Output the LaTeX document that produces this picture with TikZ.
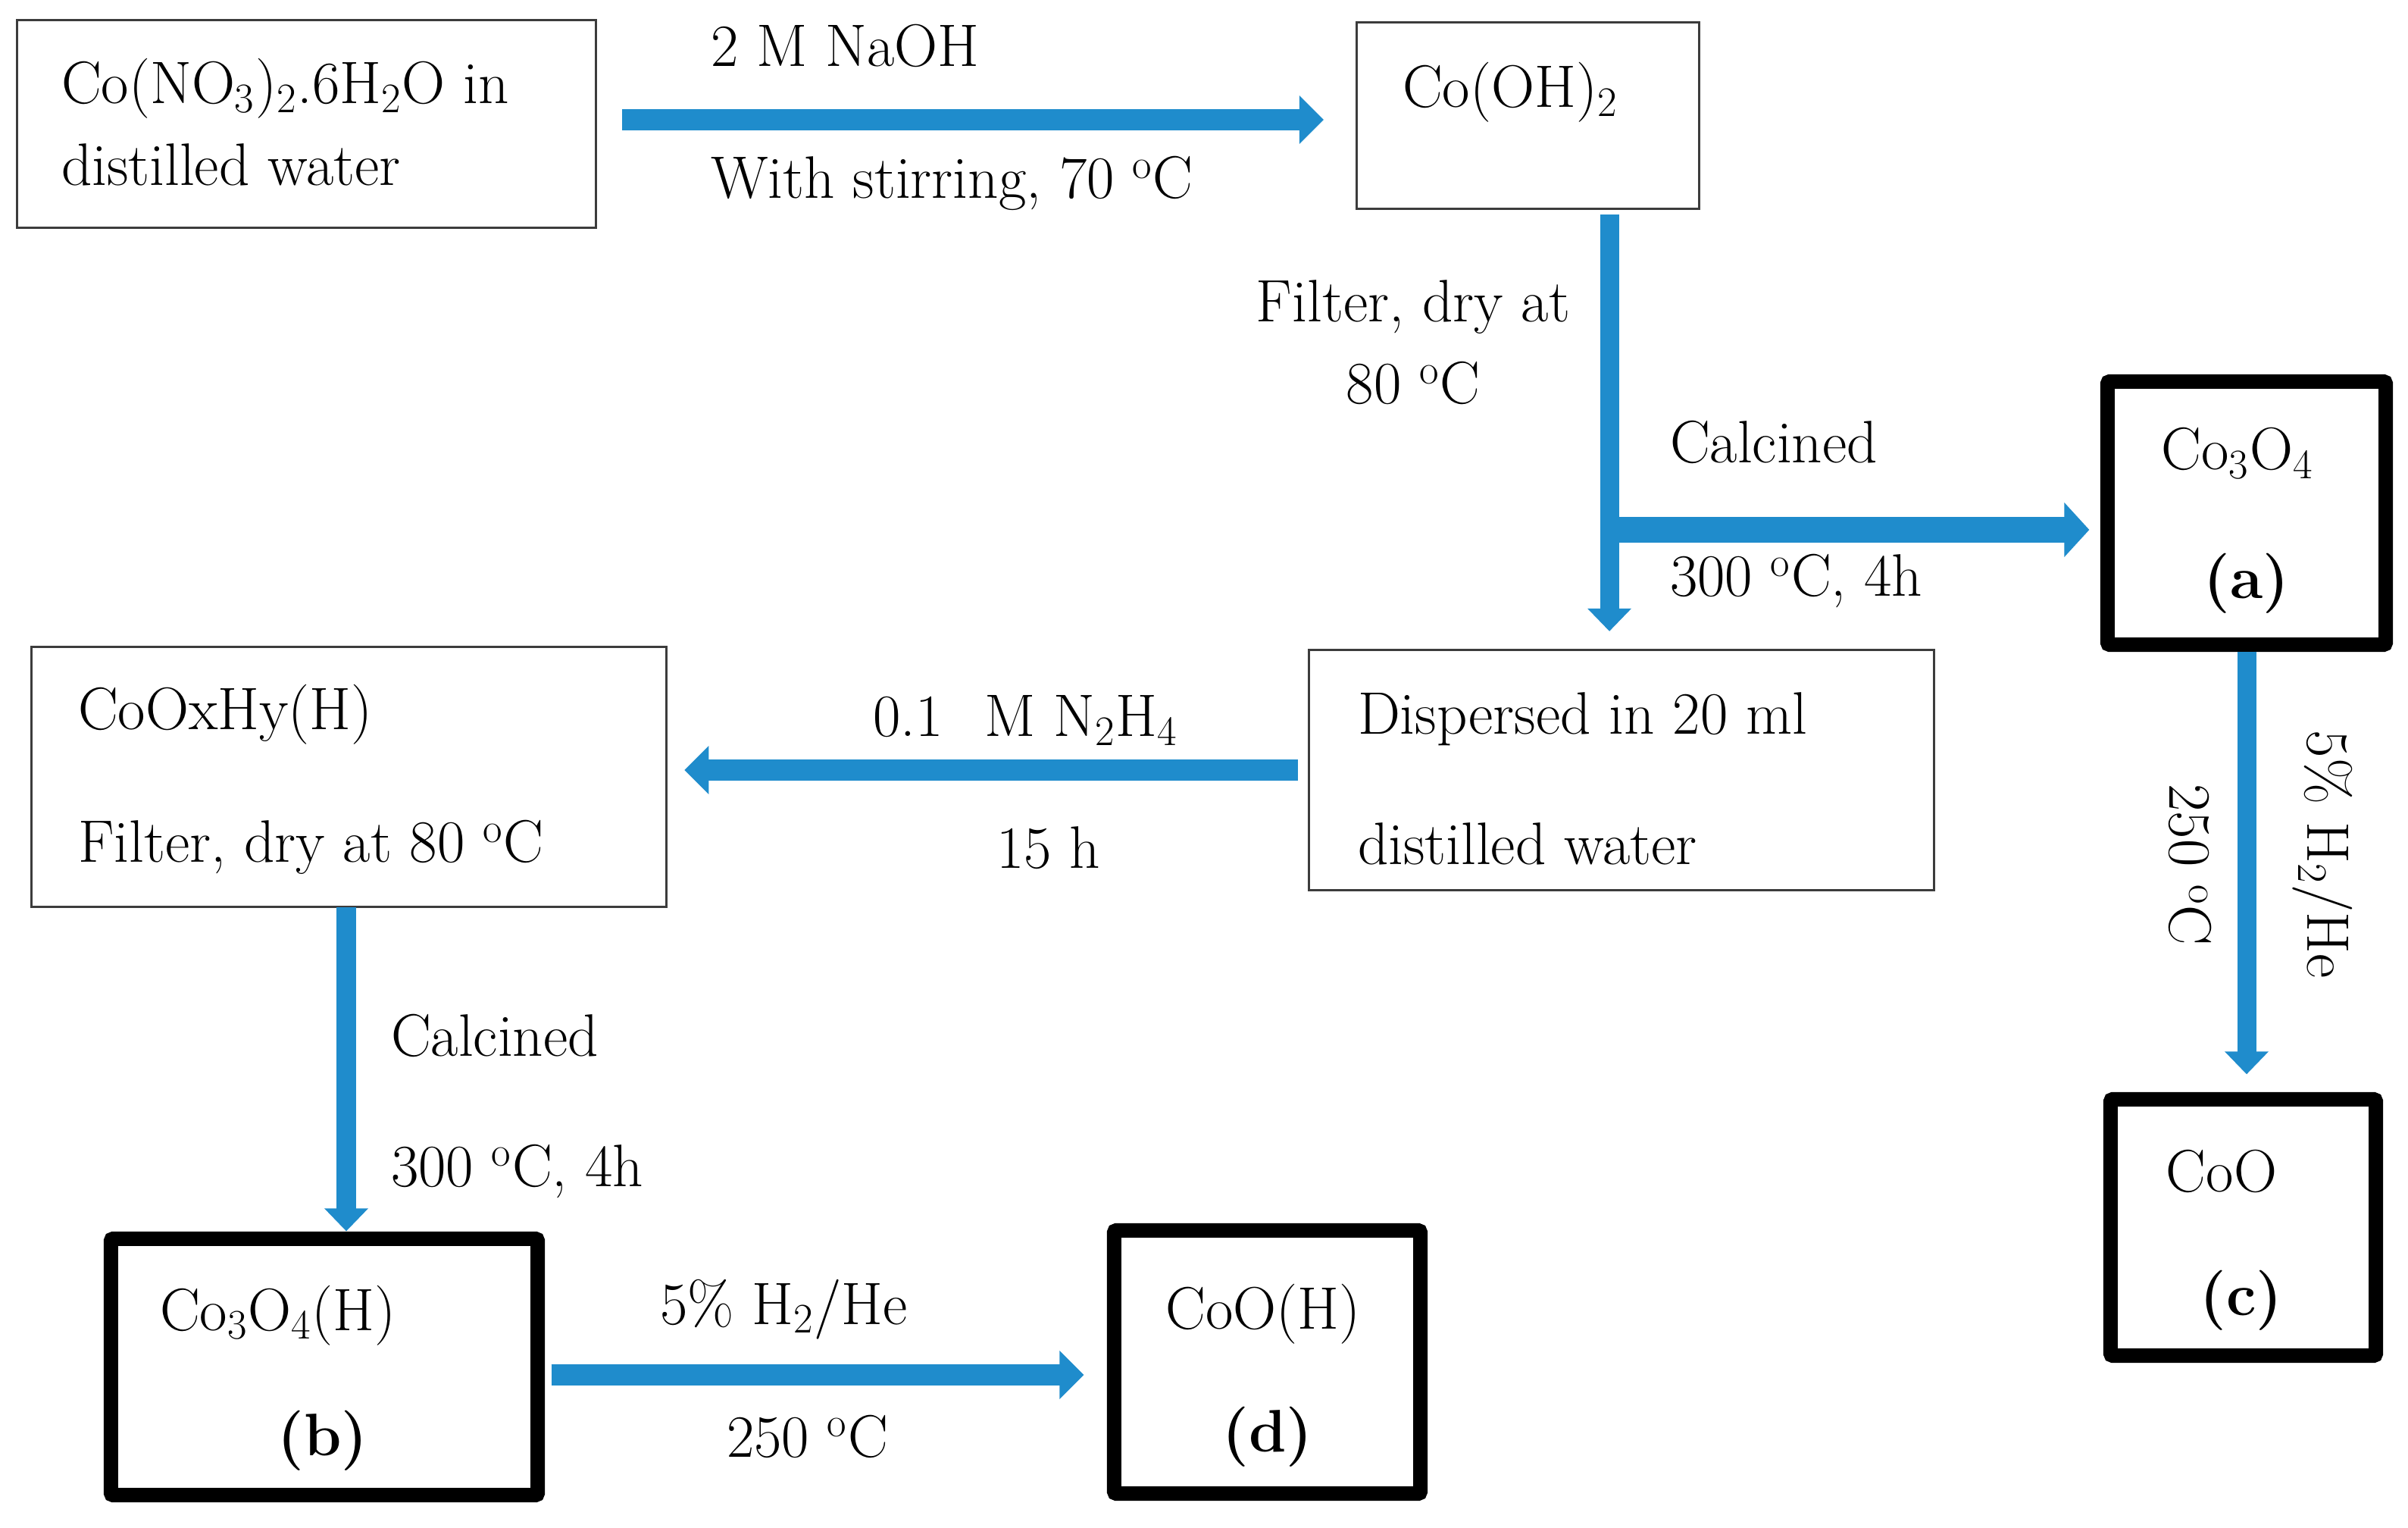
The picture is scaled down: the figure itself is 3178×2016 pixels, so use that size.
\documentclass[tikz,border=0pt]{standalone}
\usetikzlibrary{arrows.meta}
\definecolor{arrowblue}{RGB}{31,140,204}
\definecolor{boxline}{RGB}{60,60,60}
\newcommand{\dg}{\textsuperscript{o}C}
\begin{document}
\begin{tikzpicture}[x=0.01cm,y=-0.01cm,
  txt/.style={font=\fontsize{22.5}{27}\selectfont, inner sep=0, outer sep=0},
  thinbox/.style={draw=boxline, line width=0.03cm, inner sep=0, outer sep=0},
  thickbox/.style={draw=black, line width=0.19cm, inner sep=0, outer sep=0, rounded corners=0.03cm},
  harrow/.style={draw=arrowblue, line width=0.28cm, -{Triangle[length=0.32cm,width=0.62cm]}},
  varrow/.style={draw=arrowblue, line width=0.25cm, -{Triangle[length=0.3cm,width=0.56cm]}},
]
\fill[white] (0,0) rectangle (3178,2016);
\useasboundingbox (0,0) rectangle (3178,2016);

% boxes
\node[thinbox, minimum width=7.64cm, minimum height=2.74cm] (b1) at (404.5,163.5) {};
\node[thinbox, minimum width=4.52cm, minimum height=2.46cm] (b2) at (2016.5,152.5) {};
\node[thinbox, minimum width=8.25cm, minimum height=3.16cm] (disp) at (2140,1016) {};
\node[thinbox, minimum width=8.38cm, minimum height=3.43cm] (cohy) at (460.5,1025) {};
\node[thickbox, minimum width=3.67cm, minimum height=3.47cm] (co3o4) at (2965,677) {};
\node[thickbox, minimum width=3.50cm, minimum height=3.38cm] (coo) at (2960.5,1619.5) {};
\node[thickbox, minimum width=5.63cm, minimum height=3.38cm] (bb) at (428,1803.5) {};
\node[thickbox, minimum width=4.04cm, minimum height=3.47cm] (dd) at (1672.5,1797) {};

% texts in boxes
\node[txt, anchor=base west] (t1a) at (81,137) {Co(NO\textsubscript{3})\textsubscript{2}.6H\textsubscript{2}O in};
\node[txt, anchor=base west] (t1b) at (81,245) {distilled water};
\node[txt, anchor=base west] (t2) at (1851,142) {Co(OH)\textsubscript{2}};
\node[txt, anchor=base] (ta) at (2953,620) {Co\textsubscript{3}O\textsubscript{4}};
\node[txt, anchor=base] (la) at (2965,790) {\textbf{(a)}};
\node[txt, anchor=base] (tc) at (2932,1572) {CoO};
\node[txt, anchor=base] (lc) at (2958,1735) {\textbf{(c)}};
\node[txt, anchor=base west] (disp1) at (1792,969) {Dispersed in 20 ml};
\node[txt, anchor=base west] (disp2) at (1792,1141) {distilled water};
\node[txt, anchor=base west] (cohy1) at (103,963) {CoOxHy(H)};
\node[txt, anchor=base west] (cohy2) at (103,1138) {Filter, dry at 80 \dg};
\node[txt, anchor=base west] (tb) at (211,1755) {Co\textsubscript{3}O\textsubscript{4}(H)};
\node[txt, anchor=base] (lb) at (426,1920) {\textbf{(b)}};
\node[txt, anchor=base] (td) at (1667,1753) {CoO(H)};
\node[txt, anchor=base] (ld) at (1673,1915) {\textbf{(d)}};

% arrow labels
\node[txt, anchor=base west] (naoh) at (938,88) {2 M NaOH};
\node[txt, anchor=base west] (stir) at (938,262) {With stirring, 70 \dg};
\node[txt, anchor=base] (filt1) at (1865,425) {Filter, dry at};
\node[txt, anchor=base] (filt2) at (1865,533) {80 \dg};
\node[txt, anchor=base west] (calc1) at (2204,611) {Calcined};
\node[txt, anchor=base west] (calc2) at (2204,787) {300 \dg, 4h};
\node[txt, rotate=-90] (h2a) at (3065,1127) {5\% H\textsubscript{2}/He};
\node[txt, rotate=-90] (t250a) at (2890,1141) {250 \dg};
\node[txt, anchor=base west] (n2h4) at (1152,972) {0.1\hspace{0.7em}M N\textsubscript{2}H\textsubscript{4}};
\node[txt, anchor=base west] (h15) at (1315,1146) {15 h};
\node[txt, anchor=base west] (calc3) at (516,1393) {Calcined};
\node[txt, anchor=base west] (calc4) at (516,1565) {300 \dg, 4h};
\node[txt, anchor=base west] (h2b) at (871,1747) {5\% H\textsubscript{2}/He};
\node[txt, anchor=base west] (t250b) at (959,1922) {250 \dg};

% connectors
\draw[harrow, shorten <=0.345cm, shorten >=0.435cm]
  ([yshift=0.055cm]b1.east) -- ([yshift=0.055cm]b1.east -| b2.west);
\draw[varrow, shorten <=0.07cm, shorten >=0.25cm]
  ([xshift=1.075cm]b2.south) -- ([xshift=1.075cm]b2.south |- disp.north);
\coordinate (j) at (2134,699);
\draw[draw=arrowblue, line width=0.34cm, -{Triangle[length=0.33cm,width=0.7cm]}, shorten >=0.24cm]
  (j) -- (j -| co3o4.west);
\draw[varrow, shorten <=0.09cm, shorten >=0.33cm]
  (co3o4.south) -- (co3o4.south |- coo.north);
\draw[harrow, shorten <=0.145cm, shorten >=0.235cm]
  (disp.west) -- (disp.west -| cohy.east);
\draw[varrow, shorten >=0.1cm]
  ([xshift=-0.035cm]cohy.south) -- ([xshift=-0.035cm]cohy.south |- bb.north);
\draw[harrow, shorten <=0.18cm, shorten >=0.4cm]
  ([yshift=-0.105cm]bb.east) -- ([yshift=-0.105cm]bb.east -| dd.west);
\end{tikzpicture}
\end{document}
